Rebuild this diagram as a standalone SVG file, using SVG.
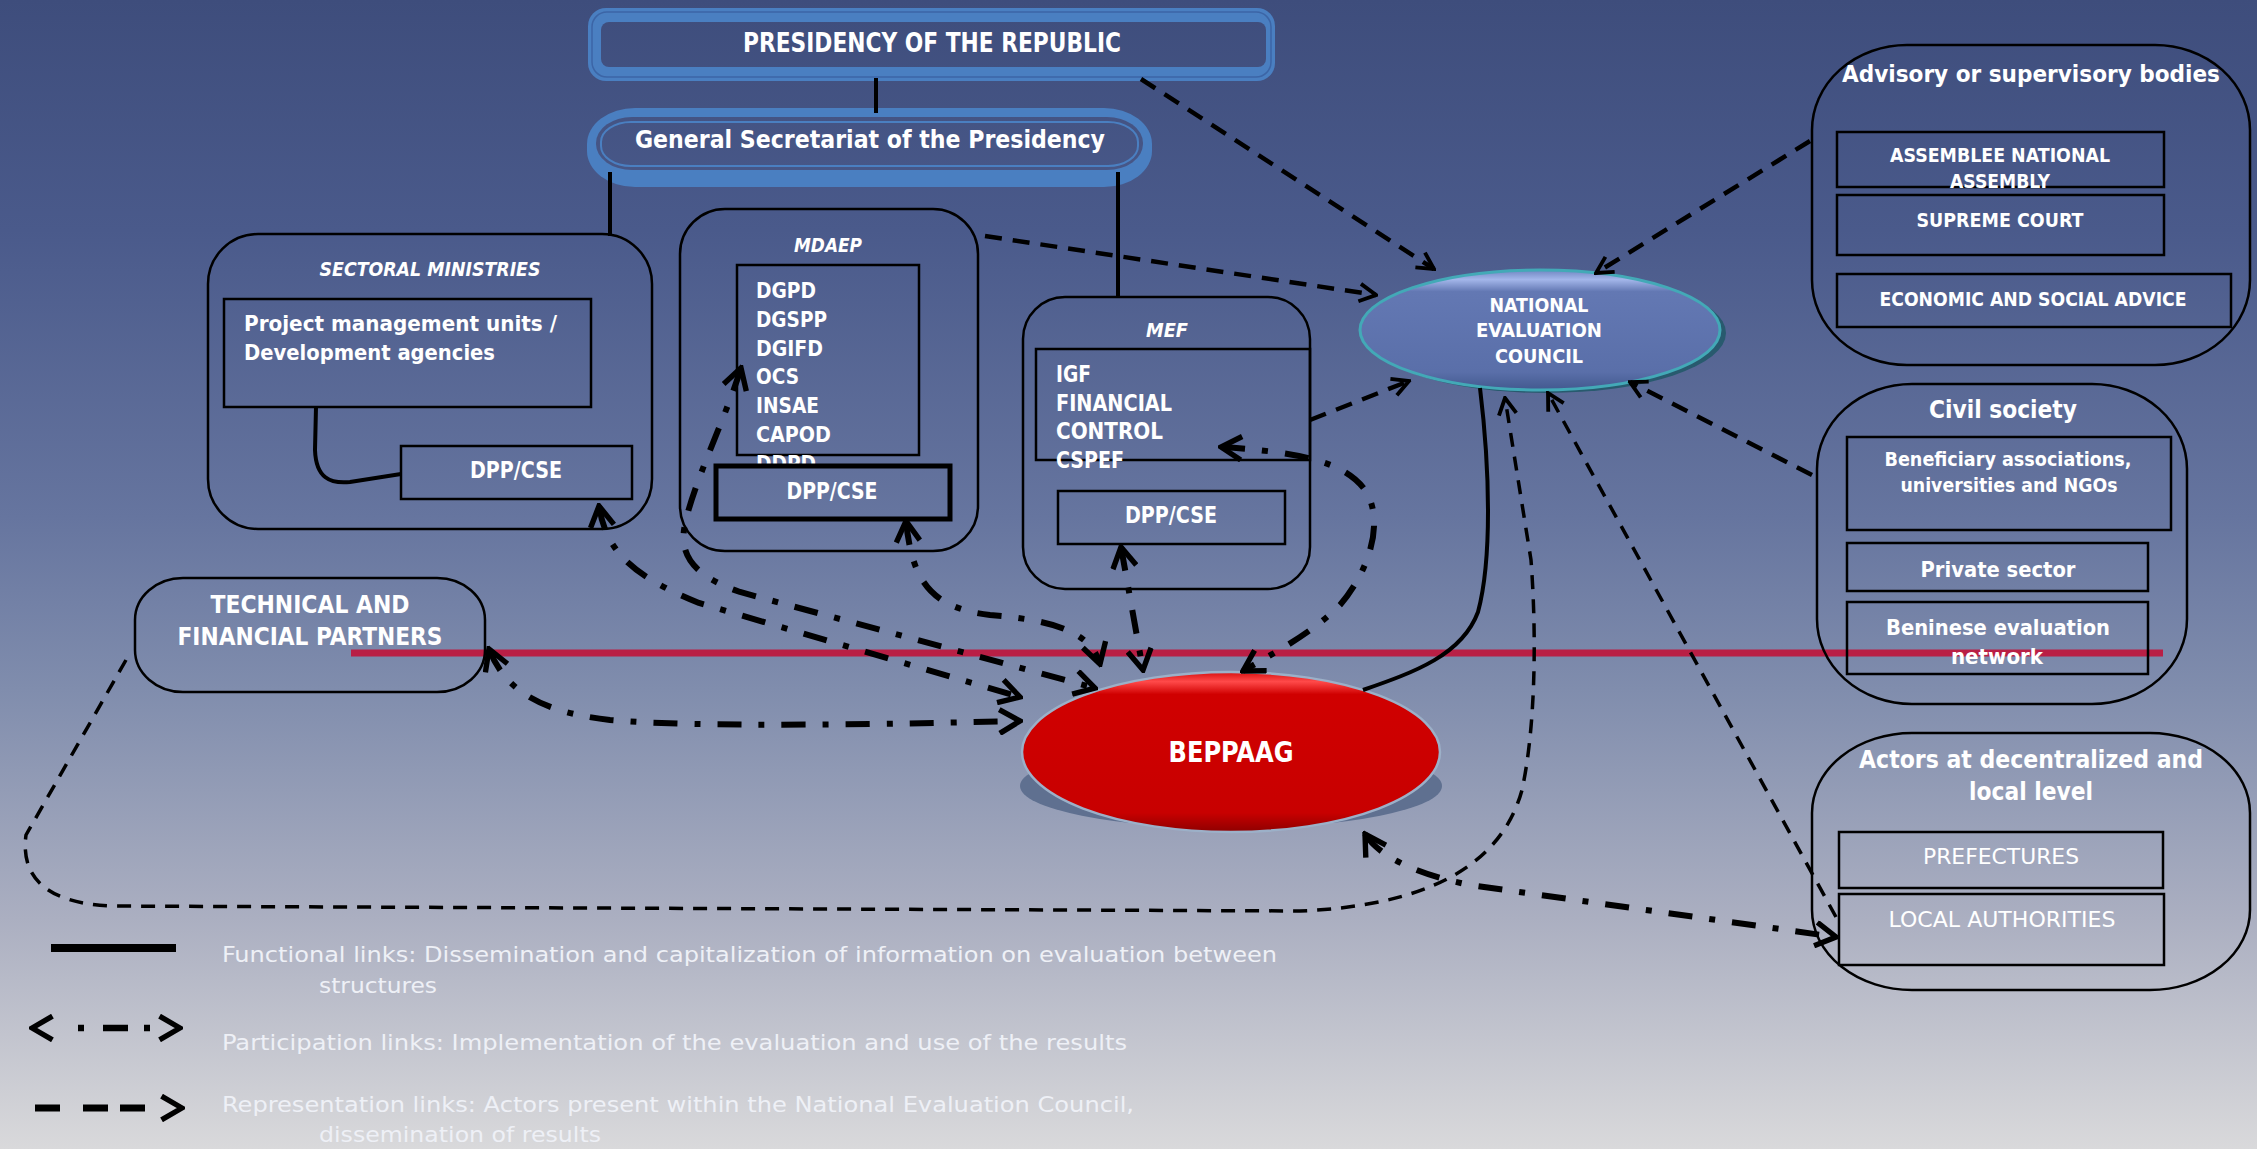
<svg xmlns="http://www.w3.org/2000/svg" width="2257" height="1149" viewBox="0 0 2257 1149">
<defs>
<linearGradient id="bg" gradientUnits="userSpaceOnUse" x1="0" y1="0" x2="0" y2="1149">
<stop offset="0" stop-color="#3e4d7c"/>
<stop offset="0.2" stop-color="#4a5a8b"/>
<stop offset="0.45" stop-color="#66759f"/>
<stop offset="0.6" stop-color="#808dad"/>
<stop offset="0.8" stop-color="#abafc1"/>
<stop offset="1" stop-color="#d9d9db"/>
</linearGradient>
<linearGradient id="red" x1="0" y1="0" x2="0" y2="1">
<stop offset="0" stop-color="#d81010"/>
<stop offset="0.06" stop-color="#ff4a4a"/>
<stop offset="0.14" stop-color="#d00000"/>
<stop offset="0.88" stop-color="#c80000"/>
<stop offset="1" stop-color="#8e0000"/>
</linearGradient>
<linearGradient id="blu" x1="0" y1="0" x2="0" y2="1">
<stop offset="0" stop-color="#6f86c2"/>
<stop offset="0.08" stop-color="#a3b6ea"/>
<stop offset="0.18" stop-color="#6378b3"/>
<stop offset="0.85" stop-color="#5a6fa9"/>
<stop offset="1" stop-color="#42598f"/>
</linearGradient>
<marker id="ar" viewBox="0 0 20 20" refX="18" refY="10" markerWidth="22" markerHeight="22" markerUnits="userSpaceOnUse" orient="auto-start-reverse">
<path d="M3,2 L18,10 L3,18" fill="none" stroke="#000" stroke-width="3.5"/>
</marker>
<marker id="ap" viewBox="0 0 26 26" refX="23" refY="13" markerWidth="28" markerHeight="28" markerUnits="userSpaceOnUse" orient="auto-start-reverse">
<path d="M4,2 L23,13 L4,24" fill="none" stroke="#000" stroke-width="5"/>
</marker>
<style>
.t{fill:#fff;font-family:"DejaVu Sans Condensed","DejaVu Sans",sans-serif;font-weight:bold}
.v{fill:#fff;font-family:"DejaVu Sans",Verdana,sans-serif;font-weight:bold}
.n{fill:#fff;font-family:"DejaVu Sans",Verdana,sans-serif}
.lg{fill:#eef0f6;font-family:"DejaVu Sans Condensed","DejaVu Sans",sans-serif;font-size:21px}
.m{text-anchor:middle}
.bx{fill:none;stroke:#000;stroke-width:2.5}
.fn{fill:none;stroke:#000;stroke-width:4}
.rp{fill:none;stroke:#000;stroke-width:4.5;stroke-dasharray:17 11;marker-end:url(#ar)}
.rt{stroke-width:3.5;stroke-dasharray:14 10}
.pa{fill:none;stroke:#000;stroke-width:6;stroke-dasharray:24 17 6 17;marker-start:url(#ap);marker-end:url(#ap)}
</style>
</defs>
<rect x="0" y="0" width="2257" height="1149" fill="url(#bg)"/>
<line id="separator" x1="351" y1="653" x2="2163" y2="653" stroke="#b91f45" stroke-width="7"/>

<g id="presidency">
<rect x="588" y="8" width="687" height="73" rx="18" fill="#4a7fc1"/>
<rect x="592" y="12" width="679" height="65" rx="15" fill="none" stroke="#3c65a6" stroke-width="1.5"/>
<rect x="601" y="22" width="665" height="45" rx="8" fill="url(#bg)"/>
<text class="t m" x="932" y="52" font-size="27" textLength="378" lengthAdjust="spacingAndGlyphs">PRESIDENCY OF THE REPUBLIC</text>
</g>

<g id="general-secretariat">
<rect x="587" y="108" width="565" height="79" rx="48" ry="36" fill="#4a7fc1"/>
<rect x="596" y="117" width="547" height="53" rx="36" ry="26" fill="url(#bg)"/>
<rect x="601" y="122" width="537" height="44" rx="30" ry="20" fill="none" stroke="#4a7fc1" stroke-width="2"/>
<text class="t m" x="870" y="148" font-size="25" textLength="470" lengthAdjust="spacingAndGlyphs">General Secretariat of the Presidency</text>
</g>

<g id="sectoral-ministries">
<rect class="bx" x="208" y="234" width="444" height="295" rx="50"/>
<text class="t m" x="430" y="276" font-size="20" font-style="italic" textLength="221" lengthAdjust="spacingAndGlyphs">SECTORAL MINISTRIES</text>
<rect class="bx" x="224" y="299" width="367" height="108" stroke-width="3"/>
<text class="t" x="244" y="331" font-size="22" textLength="313" lengthAdjust="spacingAndGlyphs">Project management units /</text>
<text class="t" x="244" y="360" font-size="22" textLength="251" lengthAdjust="spacingAndGlyphs">Development agencies</text>
<rect class="bx" x="401" y="446" width="231" height="53" stroke-width="5"/>
<text class="t m" x="516" y="478" font-size="23" textLength="92" lengthAdjust="spacingAndGlyphs">DPP/CSE</text>
</g>

<g id="mdaep">
<rect class="bx" x="680" y="209" width="298" height="342" rx="45" stroke-width="1.5"/>
<text class="t m" x="828" y="252" font-size="20" font-style="italic" textLength="68" lengthAdjust="spacingAndGlyphs">MDAEP</text>
<rect class="bx" x="737" y="265" width="182" height="190" stroke-width="2"/>
<text class="t" x="756" y="298" font-size="22" textLength="60" lengthAdjust="spacingAndGlyphs">DGPD</text>
<text class="t" x="756" y="327" font-size="22" textLength="71" lengthAdjust="spacingAndGlyphs">DGSPP</text>
<text class="t" x="756" y="356" font-size="22" textLength="67" lengthAdjust="spacingAndGlyphs">DGIFD</text>
<text class="t" x="756" y="384" font-size="22" textLength="43" lengthAdjust="spacingAndGlyphs">OCS</text>
<text class="t" x="756" y="413" font-size="22" textLength="63" lengthAdjust="spacingAndGlyphs">INSAE</text>
<text class="t" x="756" y="442" font-size="22" textLength="75" lengthAdjust="spacingAndGlyphs">CAPOD</text>
<text class="t" x="756" y="471" font-size="22" textLength="60" lengthAdjust="spacingAndGlyphs">DDPD</text>
<rect x="716" y="466" width="234" height="53" fill="url(#bg)" stroke="#000" stroke-width="5"/>
<text class="t m" x="832" y="499" font-size="23" textLength="91" lengthAdjust="spacingAndGlyphs">DPP/CSE</text>
</g>

<g id="mef">
<rect class="bx" x="1023" y="297" width="287" height="292" rx="42"/>
<text class="t m" x="1167" y="337" font-size="20" font-style="italic" textLength="42" lengthAdjust="spacingAndGlyphs">MEF</text>
<rect class="bx" x="1036" y="349" width="274" height="111" stroke-width="2"/>
<text class="t" x="1056" y="382" font-size="23" textLength="35" lengthAdjust="spacingAndGlyphs">IGF</text>
<text class="t" x="1056" y="411" font-size="23" textLength="116" lengthAdjust="spacingAndGlyphs">FINANCIAL</text>
<text class="t" x="1056" y="439" font-size="23" textLength="107" lengthAdjust="spacingAndGlyphs">CONTROL</text>
<text class="t" x="1056" y="468" font-size="23" textLength="68" lengthAdjust="spacingAndGlyphs">CSPEF</text>
<rect class="bx" x="1058" y="491" width="227" height="53" stroke-width="5"/>
<text class="t m" x="1171" y="523" font-size="23" textLength="92" lengthAdjust="spacingAndGlyphs">DPP/CSE</text>
</g>

<g id="national-evaluation-council">
<ellipse cx="1546" cy="333" rx="180" ry="60" fill="#285a6e"/>
<ellipse cx="1540" cy="330" rx="180" ry="60" fill="url(#blu)" stroke="#43a9b7" stroke-width="3"/>
<text class="t m" x="1539" y="312" font-size="19" textLength="99" lengthAdjust="spacingAndGlyphs">NATIONAL</text>
<text class="t m" x="1539" y="337" font-size="19" textLength="126" lengthAdjust="spacingAndGlyphs">EVALUATION</text>
<text class="t m" x="1539" y="363" font-size="19" textLength="88" lengthAdjust="spacingAndGlyphs">COUNCIL</text>
</g>

<g id="beppaag">
<ellipse cx="1231" cy="786" rx="211" ry="42" fill="#5f7090"/>
<ellipse cx="1231" cy="752" rx="209" ry="80" fill="url(#red)" stroke="#9cb0c8" stroke-width="2.5"/>
<text class="t m" x="1231" y="762" font-size="28" textLength="125" lengthAdjust="spacingAndGlyphs">BEPPAAG</text>
</g>

<g id="technical-financial-partners">
<rect class="bx" x="135" y="578" width="350" height="114" rx="48" ry="42" stroke-width="3"/>
<text class="t m" x="310" y="613" font-size="25" textLength="199" lengthAdjust="spacingAndGlyphs">TECHNICAL AND</text>
<text class="t m" x="310" y="645" font-size="25" textLength="265" lengthAdjust="spacingAndGlyphs">FINANCIAL PARTNERS</text>
</g>

<g id="advisory-bodies">
<rect class="bx" x="1812" y="45" width="438" height="320" rx="95" ry="85" stroke-width="2"/>
<text class="v m" x="2031" y="82" font-size="23" textLength="378" lengthAdjust="spacingAndGlyphs">Advisory or supervisory bodies</text>
<rect class="bx" x="1837" y="132" width="327" height="55" stroke-width="3"/>
<text class="v m" x="2000" y="162" font-size="20" textLength="220" lengthAdjust="spacingAndGlyphs">ASSEMBLEE NATIONAL</text>
<text class="v m" x="2000" y="188" font-size="20" textLength="100" lengthAdjust="spacingAndGlyphs">ASSEMBLY</text>
<rect class="bx" x="1837" y="195" width="327" height="60" stroke-width="3"/>
<text class="v m" x="2000" y="227" font-size="20" textLength="167" lengthAdjust="spacingAndGlyphs">SUPREME COURT</text>
<rect class="bx" x="1837" y="274" width="394" height="53" stroke-width="3"/>
<text class="v m" x="2033" y="306" font-size="20" textLength="307" lengthAdjust="spacingAndGlyphs">ECONOMIC AND SOCIAL ADVICE</text>
</g>

<g id="civil-society">
<rect class="bx" x="1817" y="384" width="370" height="320" rx="95" ry="85" stroke-width="2"/>
<text class="v m" x="2003" y="418" font-size="24" textLength="148" lengthAdjust="spacingAndGlyphs">Civil society</text>
<rect class="bx" x="1847" y="437" width="324" height="93" stroke-width="4.5"/>
<text class="v m" x="2008" y="466" font-size="19" textLength="247" lengthAdjust="spacingAndGlyphs">Beneficiary associations,</text>
<text class="v m" x="2009" y="492" font-size="19" textLength="217" lengthAdjust="spacingAndGlyphs">universities and NGOs</text>
<rect class="bx" x="1847" y="543" width="301" height="48" stroke-width="4.5"/>
<text class="v m" x="1998" y="577" font-size="22" textLength="155" lengthAdjust="spacingAndGlyphs">Private sector</text>
<rect class="bx" x="1847" y="602" width="301" height="72" stroke-width="4.5"/>
<text class="v m" x="1998" y="635" font-size="22" textLength="224" lengthAdjust="spacingAndGlyphs">Beninese evaluation</text>
<text class="v m" x="1997" y="664" font-size="22" textLength="92" lengthAdjust="spacingAndGlyphs">network</text>
</g>

<g id="decentralized-actors">
<rect class="bx" x="1812" y="733" width="438" height="257" rx="100" ry="80" stroke-width="2"/>
<text class="v m" x="2031" y="768" font-size="25" textLength="344" lengthAdjust="spacingAndGlyphs">Actors at decentralized and</text>
<text class="v m" x="2031" y="800" font-size="25" textLength="124" lengthAdjust="spacingAndGlyphs">local level</text>
<rect class="bx" x="1839" y="832" width="324" height="56"/>
<text class="n m" x="2001" y="864" font-size="22" textLength="156" lengthAdjust="spacingAndGlyphs">PREFECTURES</text>
<rect class="bx" x="1839" y="894" width="325" height="71"/>
<text class="n m" x="2002" y="927" font-size="22" textLength="227" lengthAdjust="spacingAndGlyphs">LOCAL AUTHORITIES</text>
</g>

<g id="connectors">
<path class="fn" d="M876,78 L876,113" stroke-width="4.5"/>
<path class="fn" d="M610,172 L610,236" stroke-width="4.5"/>
<path class="fn" d="M1118,172 L1118,297" stroke-width="4.5"/>
<path class="fn" d="M316,407 L315,450 C316,478 330,484 350,482 L401,474" stroke-width="3.5"/>
<path class="fn" d="M1480,388 C1490,470 1492,560 1478,612 C1462,655 1415,672 1363,690" stroke-width="3.5"/>

<path class="rp" d="M1141,79 L1434,269"/>
<path class="rp" d="M985,236 L1376,295"/>
<path class="rp" d="M1310,420 L1409,381"/>
<path class="rp" d="M1810,141 L1596,273"/>
<path class="rp" d="M1812,475 L1630,382"/>
<path class="rp rt" d="M1836,917 L1548,393"/>
<path class="rp rt" d="M126,660 L26,835 C20,880 50,903 110,906 L1300,911 C1420,906 1500,870 1522,790 C1535,730 1537,640 1531,560 L1505,398"/>

<path class="pa" d="M599,506 C606,550 630,575 699,603 L1020,697"/>
<path class="pa" d="M741,368 C725,420 690,490 684,530 C680,560 700,578 740,592 L1095,688"/>
<path class="pa" d="M906,521 C912,580 930,608 990,615 C1050,620 1090,630 1100,664"/>
<path class="pa" d="M1121,547 L1143,670"/>
<path class="pa" d="M1221,447 C1300,452 1345,462 1365,490 C1385,520 1370,570 1340,605 C1310,635 1270,655 1243,671"/>
<path class="pa" d="M489,649 C505,690 540,712 610,720 C700,728 900,724 1020,721"/>
<path class="pa" d="M1365,834 C1380,858 1420,875 1470,885 L1836,937"/>
</g>

<g id="legend">
<line x1="51" y1="948" x2="176" y2="948" stroke="#000" stroke-width="8"/>
<text class="lg" x="222" y="962" textLength="1055" lengthAdjust="spacingAndGlyphs">Functional links: Dissemination and capitalization of information on evaluation between</text>
<text class="lg" x="319" y="993" textLength="118" lengthAdjust="spacingAndGlyphs">structures</text>
<path d="M32,1028 L180,1028" fill="none" stroke="#000" stroke-width="6.5" stroke-dasharray="0 46 6 19 25 16 6 40" marker-start="url(#ap)" marker-end="url(#ap)"/>
<text class="lg" x="222" y="1050" textLength="905" lengthAdjust="spacingAndGlyphs">Participation links: Implementation of the evaluation and use of the results</text>
<path d="M35,1108 L182,1108" fill="none" stroke="#000" stroke-width="7" stroke-dasharray="25 23 25 12 25 100" marker-end="url(#ap)"/>
<text class="lg" x="222" y="1112" textLength="912" lengthAdjust="spacingAndGlyphs">Representation links: Actors present within the National Evaluation Council,</text>
<text class="lg" x="319" y="1142" textLength="282" lengthAdjust="spacingAndGlyphs">dissemination of results</text>
</g>
</svg>
